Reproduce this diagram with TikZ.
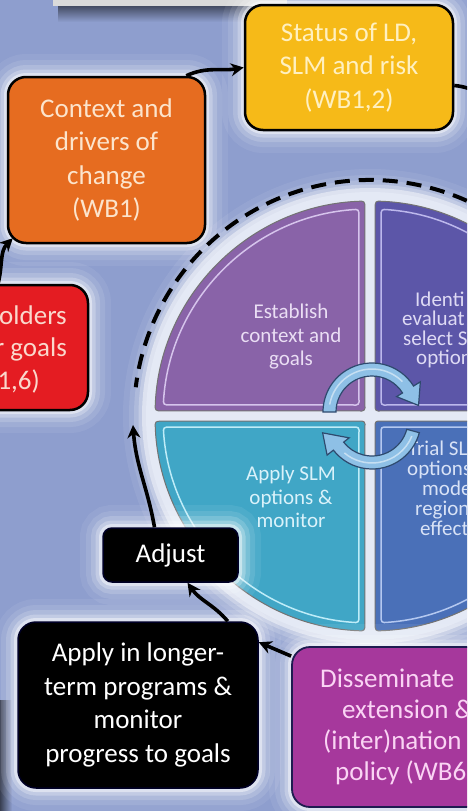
\documentclass[tikz,border=0pt]{standalone}
\usepackage{fontspec}
\setmainfont{Carlito}
\usetikzlibrary{arrows.meta}

\definecolor{bgblue}{RGB}{142,158,206}
\definecolor{ringwhite}{RGB}{228,233,245}
\definecolor{titlegray}{RGB}{218,218,218}
\definecolor{statusyel}{RGB}{246,186,24}
\definecolor{statustxt}{RGB}{255,240,192}
\definecolor{ctxorange}{RGB}{230,108,32}
\definecolor{ctxtxt}{RGB}{252,228,204}
\definecolor{stakered}{RGB}{228,28,34}
\definecolor{staketxt}{RGB}{250,216,204}
\definecolor{dissmag}{RGB}{166,56,156}
\definecolor{disstxt}{RGB}{250,212,244}
\definecolor{dissedge}{RGB}{30,28,80}
\definecolor{qTL}{RGB}{137,99,168}
\definecolor{qTR}{RGB}{92,86,168}
\definecolor{qBL}{RGB}{64,166,198}
\definecolor{qBR}{RGB}{74,112,184}
\definecolor{hlTL}{RGB}{214,196,236}
\definecolor{hlTR}{RGB}{188,184,236}
\definecolor{hlBL}{RGB}{190,236,248}
\definecolor{hlBR}{RGB}{180,200,240}
\definecolor{txTL}{RGB}{234,222,244}
\definecolor{txTR}{RGB}{222,218,244}
\definecolor{txBL}{RGB}{218,242,250}
\definecolor{txBR}{RGB}{216,226,246}
\definecolor{cyclight}{RGB}{142,192,230}
\definecolor{cycdark}{RGB}{46,74,110}

\tikzset{
  glow/.style={preaction={draw=white,draw opacity=.07,line width=46pt},
               preaction={draw=white,draw opacity=.1,line width=34pt},
               preaction={draw=white,draw opacity=.16,line width=24pt},
               preaction={draw=white,draw opacity=.26,line width=15pt},
               preaction={draw=white,draw opacity=.45,line width=8pt}},
  stagebox/.style={draw=black,line width=2.5pt,rounded corners=18pt,inner sep=0pt,
                   align=center,font=\fontsize{27}{33.5}\selectfont,glow},
  quadlabel/.style={inner sep=0pt,font=\fontsize{21}{23.5}\selectfont},
  cutlabel/.style={inner sep=0pt,font=\fontsize{27}{32}\selectfont},
  flow/.style={draw=black,line width=3.6pt,-{Stealth[length=13pt,width=13pt]}},
  cyclearrow/.style={draw=cycdark,line width=1.2pt,fill=cyclight},
}

\begin{document}
\begin{tikzpicture}[x=1pt,y=1pt]
\useasboundingbox (0,0) rectangle (467,-811);
\clip (0,0) rectangle (467,-811);
\fill[bgblue] (0,0) rectangle (467,-811);

% title box cut at the top, and its shadow
\shade[top color=bgblue!45!black,bottom color=bgblue] (58,-5) rectangle (292,-22);
\fill[titlegray] (53,0) rectangle (287,-6);
\shade[left color=bgblue!40!black,right color=bgblue] (0,-700) rectangle (12,-811);

% the cycle
\begin{scope}[shift={(370,-416)}]
  \fill[ringwhite,glow] (0,0) circle[radius=224];
\end{scope}
\foreach \rot/\qcol/\hcol in {0/qTR/hlTR,90/qTL/hlTL,180/qBL/hlBL,270/qBR/hlBR}{
  \begin{scope}[shift={(370,-416)},rotate=\rot]
    \filldraw[fill=\qcol,draw=black!55,line width=1pt,rounded corners=3pt]
      (5,5) -- (88.6:215) arc[start angle=88.6,end angle=1.4,radius=215] -- cycle;
    \draw[\hcol,line width=1.5pt,rounded corners=3pt]
      (11,11) -- (86.9:207) arc[start angle=86.9,end angle=3.1,radius=207] -- cycle;
  \end{scope}
}

\draw (291,-337) node[quadlabel,text=txTL,align=center](estab) {Establish\\context and\\goals};
\draw (291,-497) node[quadlabel,text=txBL,align=center](applyq) {Apply SLM\\options \&\\monitor};
\draw (402,-330) node[quadlabel,text=txTR,align=left,anchor=west,font=\fontsize{21}{19.5}\selectfont](ident)
  {\hspace*{13pt}Identi\\evaluat\\\hspace*{1pt}select S\\\hspace*{14pt}option};
\draw (407,-488) node[quadlabel,text=txBR,align=left,anchor=west,font=\fontsize{21}{20}\selectfont](trial)
  {\hspace*{1pt}Trial SL\\options\\\hspace*{15pt}mode\\\hspace*{8pt}region\\\hspace*{13pt}effect};

% turning arrows in the middle
\begin{scope}[shift={(372,-412)}]
  \filldraw[cyclearrow] (180:36) arc[start angle=180,end angle=32,radius=36] -- (32:29) -- (8:47)
    -- (32:57) -- (32:49) arc[start angle=32,end angle=180,radius=49] -- cycle;
  \draw[white,opacity=.5,line width=1.5pt] (170:43) arc[start angle=170,end angle=45,radius=43];
\end{scope}
\begin{scope}[shift={(372,-420)},rotate=180]
  \filldraw[cyclearrow] (165:36) arc[start angle=165,end angle=38,radius=36] -- (38:29) -- (14.6:51)
    -- (38:57) -- (38:49) arc[start angle=38,end angle=165,radius=49] -- cycle;
  \draw[white,opacity=.5,line width=1.5pt] (158:43) arc[start angle=158,end angle=50,radius=43];
\end{scope}

% stages round the cycle
\draw (349,-67.5) node[stagebox,fill=statusyel,text=statustxt,minimum width=208pt,minimum height=125pt](status) {Status of LD,\\SLM and risk\\(WB1,2)};
\draw (106.5,-160) node[stagebox,fill=ctxorange,text=ctxtxt,minimum width=197pt,minimum height=166pt](ctx) {Context and\\drivers of\\change\\(WB1)};
\draw (-2,-347.5) node[stagebox,fill=stakered,minimum width=180pt,minimum height=125pt](stake) {};
\draw (67,-349) node[cutlabel,text=staketxt,align=right,anchor=east,font=\fontsize{27}{32.5}\selectfont](staketext) {olders\\r goals\\1,6)\hspace*{27pt}};
\draw (170.5,-555) node[stagebox,fill=black,draw=black!85!blue,line width=1.5pt,rounded corners=9pt,text=white,minimum width=135pt,minimum height=54pt](adjust) {Adjust};
\draw (138,-705) node[stagebox,fill=black,draw=black!85!blue,line width=1.5pt,text=white,minimum width=240pt,minimum height=166pt](longer) {Apply in longer-\\term programs \&\\monitor\\progress to goals};
\draw (405,-727) node[stagebox,fill=dissmag,draw=dissedge,line width=1.8pt,minimum width=226pt,minimum height=160pt](diss) {};
\draw (320,-727) node[cutlabel,text=disstxt,align=left,anchor=west,font=\fontsize{27}{31}\selectfont](disstext) {Disseminate\\\hspace*{22pt}extension \&\\\hspace*{3pt}(inter)nation\\\hspace*{15pt}policy (WB6};

\coordinate (offright) at (520,-175);
\coordinate (loopend) at (133,-425);
\draw[flow] ([xshift=-20pt]ctx.north east) to[out=25,in=190] (status.west);
\draw[flow] ([yshift=-18pt]status.east) to[out=-5,in=100] (offright);
\draw[flow] (stake.north) to[out=75,in=225] ([shift={(6pt,6pt)}]ctx.south west);
\draw[flow] ([xshift=-16pt]adjust.north) to[out=100,in=-86] (loopend);
\draw[flow] ([xshift=-31pt]longer.north east) to[out=130,in=-55] ([xshift=17pt]adjust.south);
\draw[flow] ([yshift=-10pt]diss.north west) -- ([yshift=-21pt]longer.north east);

% dashed ring
\begin{scope}[shift={(370,-416)}]
  \draw[line width=4pt,dash pattern=on 15pt off 9pt] (25:236) arc[start angle=25,end angle=173,radius=236];
\end{scope}
\end{tikzpicture}
\end{document}
